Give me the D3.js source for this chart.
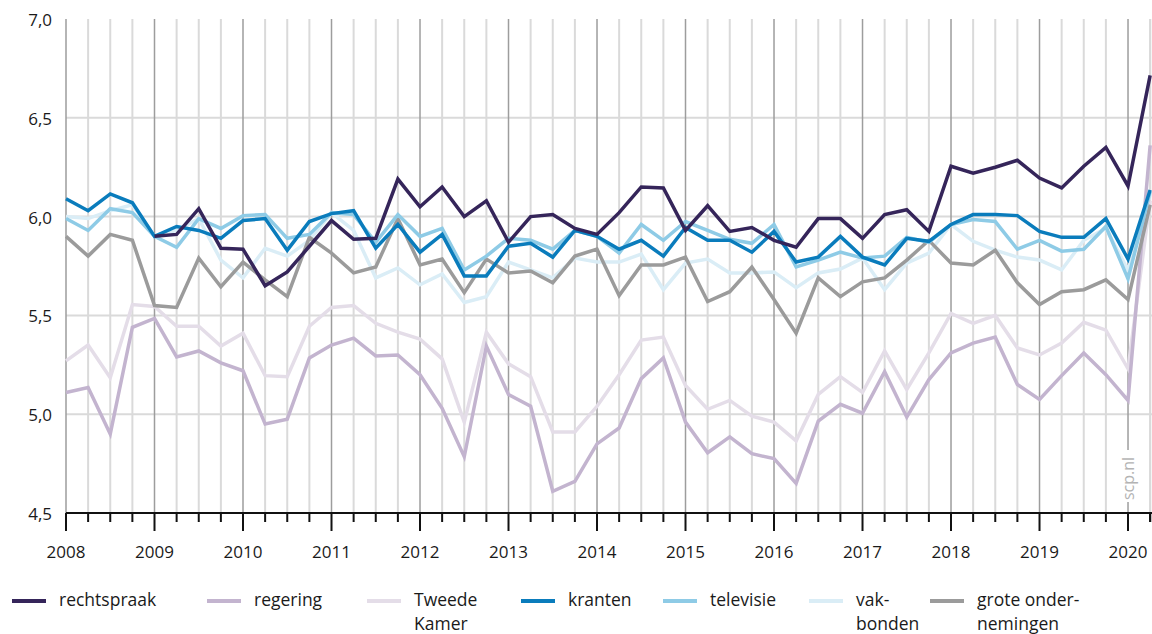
<!DOCTYPE html>
<html lang="nl">
<head>
<meta charset="UTF-8">
<title>Vertrouwen in instituties</title>
<script src="https://d3js.org/d3.v7.min.js"></script>
<style>
  body { margin: 0; background: #fff; font-family: "Open Sans", "Noto Sans", sans-serif; }
  svg { display: block; }
  .tick-label { font-size: 17px; fill: #1a1a1a; }
  .legend text { font-size: 17.5px; fill: #1a1a1a; }
  .series { fill: none; stroke-width: 3.5; stroke-linejoin: miter; }
</style>
</head>
<body>
<svg id="chart" width="1152" height="634"></svg>
<script>
// quarters 2008 K1 .. 2020 K2
const quarters = d3.range(50).map(i => 2008 + i / 4);
const yearTicks = d3.range(2008, 2021);
const yTicks = [4.5, 5.0, 5.5, 6.0, 6.5, 7.0];

const rechtspraak = [null, null, null, null,
  5.90, 5.91, 6.04, 5.84,  5.835, 5.65, 5.72, 5.85,  5.98, 5.885, 5.89, 6.19,
  6.05, 6.15, 6.00, 6.08,  5.87, 6.00, 6.01, 5.94,  5.91, 6.02, 6.15, 6.145,
  5.93, 6.055, 5.925, 5.945,  5.88, 5.845, 5.99, 5.99,  5.89, 6.01, 6.035, 5.925,
  6.255, 6.22, 6.25, 6.285,  6.195, 6.145, 6.255, 6.35,  6.155, 6.715];
const regering = [5.11, 5.135, 4.90, 5.44,  5.485, 5.29, 5.32, 5.26,  5.22, 4.95, 4.975, 5.285,
  5.35, 5.385, 5.295, 5.30,  5.20, 5.03, 4.785, 5.345,  5.10, 5.04, 4.61, 4.66,
  4.85, 4.93, 5.18, 5.285,  4.96, 4.805, 4.885, 4.80,  4.775, 4.65, 4.965, 5.05,
  5.005, 5.215, 4.985, 5.175,  5.31, 5.36, 5.39, 5.15,  5.075, 5.195, 5.31, 5.20,
  5.07, 6.36];
const tweedeKamer = [5.27, 5.35, 5.185, 5.555,  5.545, 5.445, 5.445, 5.345,  5.41, 5.195, 5.19, 5.445,
  5.54, 5.55, 5.46, 5.415,  5.38, 5.28, 4.96, 5.415,  5.255, 5.19, 4.91, 4.91,
  5.04, 5.20, 5.375, 5.39,  5.145, 5.025, 5.07, 4.99,  4.96, 4.865, 5.10, 5.19,
  5.11, 5.32, 5.125, 5.31,  5.51, 5.46, 5.50, 5.335,  5.30, 5.36, 5.465, 5.425,
  5.23, 6.08];
const kranten = [6.09, 6.03, 6.115, 6.07,  5.90, 5.95, 5.93, 5.89,  5.98, 5.99, 5.83, 5.975,
  6.015, 6.03, 5.84, 5.96,  5.82, 5.91, 5.70, 5.70,  5.85, 5.865, 5.795, 5.93,
  5.90, 5.835, 5.88, 5.80,  5.945, 5.88, 5.88, 5.82,  5.925, 5.77, 5.795, 5.90,
  5.795, 5.755, 5.89, 5.875,  5.96, 6.01, 6.01, 6.005,  5.925, 5.895, 5.895, 5.99,
  5.785, 6.135];
const televisie = [5.99, 5.93, 6.04, 6.02,  5.90, 5.845, 5.99, 5.94,  6.005, 6.01, 5.89, 5.91,
  6.02, 6.01, 5.87, 6.01,  5.90, 5.94, 5.73, 5.80,  5.89, 5.88, 5.835, 5.93,
  5.90, 5.815, 5.96, 5.88,  5.975, 5.93, 5.885, 5.865,  5.96, 5.745, 5.78, 5.82,
  5.79, 5.80, 5.895, 5.87,  5.96, 5.985, 5.975, 5.835,  5.88, 5.825, 5.835, 5.95,
  5.685, 6.125];
const vakbonden = [6.00, 5.99, 6.03, 6.06,  5.90, 5.93, 5.99, 5.78,  5.69, 5.84, 5.80, 5.88,
  6.02, 5.93, 5.69, 5.74,  5.655, 5.71, 5.565, 5.595,  5.77, 5.73, 5.69, 5.79,
  5.77, 5.77, 5.81, 5.63,  5.765, 5.785, 5.715, 5.715,  5.72, 5.64, 5.715, 5.735,
  5.79, 5.63, 5.765, 5.815,  5.96, 5.875, 5.83, 5.795,  5.78, 5.73, 5.88, 5.94,
  5.73, 6.11];
const groteOndernemingen = [5.90, 5.80, 5.91, 5.88,  5.55, 5.54, 5.79, 5.645,  5.77, 5.68, 5.595, 5.895,
  5.815, 5.715, 5.745, 5.99,  5.755, 5.785, 5.615, 5.785,  5.715, 5.725, 5.665, 5.80,
  5.835, 5.60, 5.755, 5.755,  5.795, 5.57, 5.62, 5.745,  5.58, 5.41, 5.69, 5.595,
  5.67, 5.69, 5.78, 5.88,  5.765, 5.755, 5.83, 5.665,  5.555, 5.62, 5.63, 5.68,
  5.58, 6.06];

const seriesNames = ["rechtspraak", "regering", "Tweede\nKamer", "kranten", "televisie", "vak-\nbonden", "grote onder-\nnemingen"];
const seriesValues = [rechtspraak, regering, tweedeKamer, kranten, televisie, vakbonden, groteOndernemingen];
const seriesColors = ["#35255a", "#c3b4cf", "#e4dde8", "#0a7cbc", "#8ecbe6", "#daedf6", "#9b9b9b"];
const drawOrder = [5, 2, 1, 6, 4, 3, 0];
const legendX = [12, 207, 367, 521, 663, 809, 930];

const svg = d3.select("#chart");
const x = d3.scaleLinear().domain([2008, 2020.271]).range([66, 1152]);
const y = d3.scaleLinear().domain([4.5, 7]).range([513, 19]);

// grid
const grid = svg.append("g");
grid.selectAll(".hgrid")
  .data(yTicks.filter(d => d > 4.5 && d < 7))
  .enter().append("line")
  .attr("x1", x(2008)).attr("x2", 1152)
  .attr("y1", d => y(d)).attr("y2", d => y(d))
  .attr("stroke", "#dadada").attr("stroke-width", 2);
grid.selectAll(".qgrid")
  .data(quarters.filter(q => q % 1 !== 0).concat([2020.25]))
  .enter().append("line")
  .attr("x1", d => x(d)).attr("x2", d => x(d))
  .attr("y1", y(7)).attr("y2", y(4.5))
  .attr("stroke", "#dadada").attr("stroke-width", 2);
grid.selectAll(".ygrid")
  .data(yearTicks)
  .enter().append("line")
  .attr("x1", d => x(d)).attr("x2", d => x(d))
  .attr("y1", y(7)).attr("y2", y(4.5))
  .attr("stroke", "#9d9d9d").attr("stroke-width", 1.5);

// y labels
svg.append("g").selectAll("text")
  .data(yTicks)
  .enter().append("text")
  .attr("class", "tick-label")
  .attr("x", 52).attr("y", d => y(d) + 7)
  .attr("text-anchor", "end")
  .text(d => d3.format(".1f")(d).replace(".", ","));

// source label on the 2020 gridline
const src = svg.append("g").attr("transform", `translate(${x(2020)},500) rotate(-90)`);
src.append("rect").attr("x", -2).attr("y", -9).attr("width", 52).attr("height", 18).attr("fill", "#fff");
src.append("text").attr("x", 0).attr("y", 6)
  .style("font-size", "16px").attr("fill", "#b3b3b3").text("scp.nl");

// series
const line = d3.line()
  .defined(d => d[1] != null)
  .x(d => x(d[0])).y(d => y(d[1]));
svg.append("g").selectAll("path")
  .data(drawOrder)
  .enter().append("path")
  .attr("class", "series")
  .attr("stroke", i => seriesColors[i])
  .attr("d", i => line(quarters.map((q, k) => [q, seriesValues[i][k]])));

// x axis
const axis = svg.append("g");
axis.append("line").attr("x1", x(2008)).attr("x2", 1152)
  .attr("y1", y(4.5)).attr("y2", y(4.5)).attr("stroke", "#111").attr("stroke-width", 2);
axis.selectAll(".qt")
  .data(quarters.concat([2020.25]))
  .enter().append("line")
  .attr("x1", d => x(d)).attr("x2", d => x(d))
  .attr("y1", y(4.5)).attr("y2", d => y(4.5) + (d % 1 === 0 ? 18 : 9))
  .attr("stroke", "#111").attr("stroke-width", 2);
axis.selectAll("text")
  .data(yearTicks)
  .enter().append("text")
  .attr("class", "tick-label")
  .attr("x", d => x(d)).attr("y", 558)
  .attr("text-anchor", "middle")
  .text(d => d);

// legend
const legend = svg.append("g").attr("class", "legend");
seriesNames.forEach((name, i) => {
  const g = legend.append("g").attr("transform", `translate(${legendX[i]},0)`);
  g.append("line").attr("x1", 0).attr("x2", 34).attr("y1", 601).attr("y2", 601)
    .attr("stroke", seriesColors[i]).attr("stroke-width", 4);
  const t = g.append("text").attr("x", 47).attr("y", 606);
  name.split("\n").forEach((part, k) => {
    t.append("tspan").attr("x", 47).attr("dy", k === 0 ? 0 : 24).text(part);
  });
});
</script>
</body>
</html>
